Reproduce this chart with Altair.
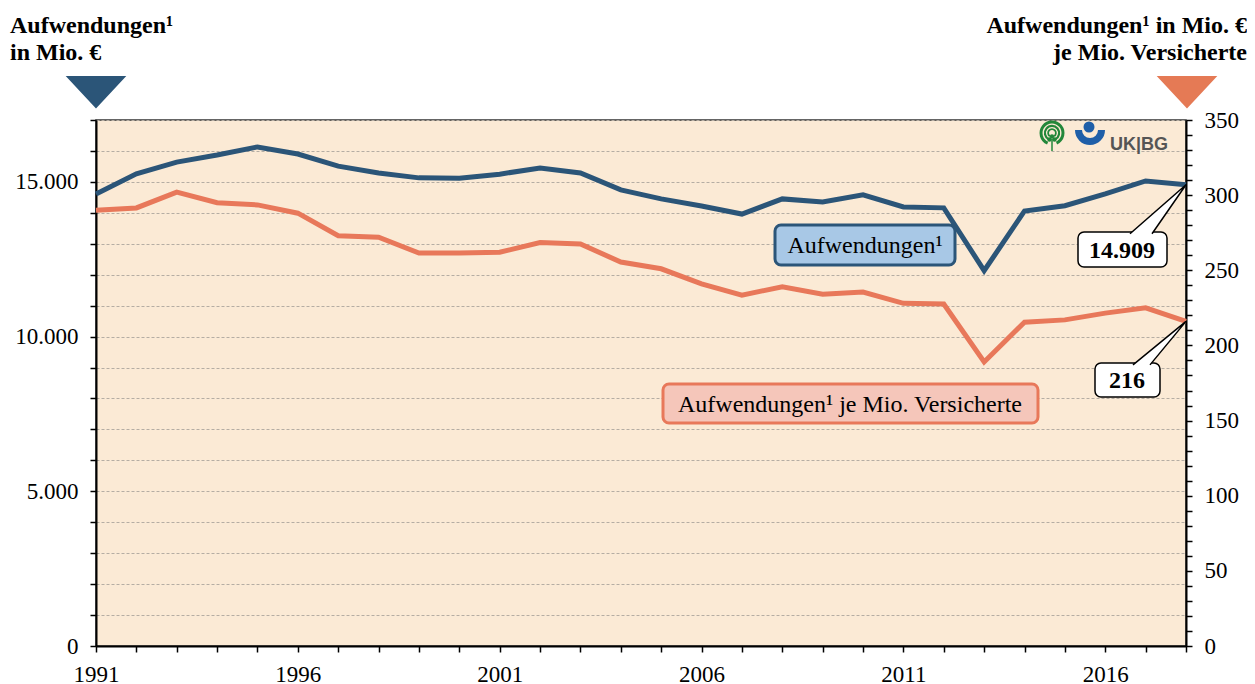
import altair as alt
import pandas as pd

years = list(range(1991, 2019))
aufwendungen = [14610, 15260, 15640, 15870, 16130, 15900, 15510, 15290, 15130, 15120,
                15250, 15450, 15290, 14740, 14450, 14220, 13960, 14450, 14350, 14580,
                14190, 14160, 12130, 14060, 14230, 14610, 15030, 14909]
je_versicherte = [290, 291.5, 302, 295, 293.5, 288, 273, 272, 261.5, 261.5,
                  262, 268.5, 267.5, 255.5, 251, 241, 233.5, 239, 234, 235.5,
                  228, 227.5, 189, 215.5, 217, 221.5, 225, 216]
left_ticks = list(range(0, 17001, 1000))
right_ticks = list(range(0, 351, 10))
label_blue = "Aufwendungen¹"
label_orange = "Aufwendungen¹ je Mio. Versicherte"
head_left = ["Aufwendungen¹", "in Mio. €"]
head_right = ["Aufwendungen¹ in Mio. €", "je Mio. Versicherte"]
last_blue = "14.909"
last_orange = "216"

df = pd.DataFrame({"year": years, "aufw": aufwendungen, "jev": je_versicherte})
df_last = df[df["year"] == years[-1]]

W, H = 1090, 526
BLUE = "#2B5578"
ORANGE = "#E8785A"
BG = "#FBEAD5"
FONT = "Liberation Serif"
FS = 23

xenc = alt.X("year:Q", scale=alt.Scale(domain=[years[0], years[-1]], nice=False, zero=False),
             axis=alt.Axis(values=years, title=None,
                           labelExpr="(datum.value - 1991) % 5 === 0 ? '' + datum.value : ''",
                           labelFont=FONT, labelFontSize=FS, labelColor="black",
                           labelPadding=11, tickSize=6, tickWidth=1.5, tickColor="black",
                           domainColor="black", domainWidth=2, grid=False, labelFlush=False))

left_scale = alt.Scale(domain=[0, 17000], nice=False, zero=True)
right_scale = alt.Scale(domain=[0, 350], nice=False, zero=True)

left_axis = alt.Axis(orient="left", values=left_ticks, title=None,
                     labelExpr="datum.value % 5000 === 0 ? replace(format(datum.value, ','), ',', '.') : ''",
                     labelFont=FONT, labelFontSize=FS, labelColor="black", labelPadding=12,
                     tickSize=6, tickWidth=1.5, tickColor="black",
                     domainColor="black", domainWidth=2,
                     grid=True, gridDash=[3, 2], gridColor="#B5ADA3", gridWidth=1.2)
right_axis = alt.Axis(orient="right", values=right_ticks, title=None,
                      labelExpr="datum.value % 50 === 0 ? '' + datum.value : ''",
                      labelFont=FONT, labelFontSize=FS, labelColor="black", labelPadding=12,
                      tickSize=6, tickWidth=1.5, tickColor="black",
                      domainColor="black", domainWidth=2, grid=False)

base = alt.Chart(df)

blue_line = base.mark_line(color=BLUE, strokeWidth=5).encode(
    x=xenc, y=alt.Y("aufw:Q", scale=left_scale, axis=left_axis))
orange_line = base.mark_line(color=ORANGE, strokeWidth=5).encode(
    x=xenc, y=alt.Y("jev:Q", scale=right_scale, axis=right_axis))


def box(x1, x2, y1, y2, fill, stroke, sw, r=6):
    return alt.Chart(df_last).mark_rect(fill=fill, stroke=stroke, strokeWidth=sw,
                                        cornerRadius=r).encode(
        x=alt.value(x1), x2=alt.value(x2), y=alt.value(y1), y2=alt.value(y2))


def label(txt, x, y, size=FS, bold=False, align="center", color="black", font=FONT,
          baseline="middle"):
    return alt.Chart(df_last).mark_text(text=txt, font=font, fontSize=size,
                                        fontWeight="bold" if bold else "normal",
                                        align=align, baseline=baseline, color=color).encode(
        x=alt.value(x), y=alt.value(y))


box_blue_val = box(982, 1071, 112, 147, "white", "black", 1.5)
box_orange_val = box(999, 1064, 243, 277, "white", "black", 1.5)

pointer_blue = alt.Chart(df_last).mark_point(
    shape="M-56,49L0,0L-34,49", size=4, filled=True, fill="white", stroke="black",
    strokeWidth=1.5, opacity=1).encode(
    x=xenc, y=alt.Y("aufw:Q", scale=left_scale, axis=None))
pointer_orange = alt.Chart(df_last).mark_point(
    shape="M-53,43.5L0,0L-36,43.5", size=4, filled=True, fill="white", stroke="black",
    strokeWidth=1.5, opacity=1).encode(
    x=xenc, y=alt.Y("jev:Q", scale=right_scale, axis=None))

legend_blue = box(679, 859, 105, 145, "#A8C8E6", BLUE, 3)
legend_orange = box(567, 942, 264, 303, "#F5C6BA", ORANGE, 3)

txt_legend_blue = label(label_blue, 769, 126, size=24)
txt_legend_orange = label(label_orange, 754, 285, size=24)
txt_val_blue = label(last_blue, 1026, 131, size=24, bold=True)
txt_val_orange = label(last_orange, 1031, 261, size=24, bold=True)

head_l1 = label(head_left[0], -86, -87, size=24, bold=True, align="left", baseline="alphabetic")
head_l2 = label(head_left[1], -86, -60, size=24, bold=True, align="left", baseline="alphabetic")
head_r1 = label(head_right[0], 1151, -87, size=24, bold=True, align="right", baseline="alphabetic")
head_r2 = label(head_right[1], 1151, -60, size=24, bold=True, align="right", baseline="alphabetic")

tri_left = alt.Chart(df_last).mark_point(shape="M-28,-15L28,-15L0,15Z", size=4, filled=True,
                                         fill=BLUE, stroke=BLUE, opacity=1).encode(
    x=alt.value(0), y=alt.value(-28))
tri_right = alt.Chart(df_last).mark_point(shape="M-28,-15L28,-15L0,15Z", size=4, filled=True,
                                          fill="#E57A55", stroke="#E57A55", opacity=1).encode(
    x=alt.value(1091), y=alt.value(-28))


def arc(cx, cy, r1, r2, t1, t2, color):
    return alt.Chart(df_last).mark_arc(radius=r2, radius2=r1, theta=t1, theta2=t2,
                                       color=color).encode(x=alt.value(cx), y=alt.value(cy))


GREEN = "#23873A"
BLUE_LOGO = "#1F5FA8"
logo_g1 = arc(956, 13, 9.5, 12.5, 3.55, 9.0, GREEN)
logo_g2 = arc(956, 13, 6, 8.2, 3.6, 8.95, GREEN)
logo_g3 = arc(956, 13, 3, 4.8, 3.75, 8.8, GREEN)
logo_g4 = arc(953.5, 19.5, 0, 2.2, 0, 6.3, GREEN)
logo_g5 = arc(958.5, 19.5, 0, 2.2, 0, 6.3, GREEN)
logo_g6 = arc(956, 16.5, 0, 2.2, 0, 6.3, GREEN)
logo_stem = alt.Chart(df_last).mark_rule(color=GREEN, strokeWidth=1.5).encode(
    x=alt.value(956), y=alt.value(19), y2=alt.value(31))
logo_b1 = arc(993, 7, 0, 5.5, 0, 6.3, BLUE_LOGO)
logo_b2 = arc(994, 10, 8, 15, 1.57, 4.71, BLUE_LOGO)
logo_txt = label("UK|BG", 1014, 30, size=18, bold=True, align="left",
                 color="#555555", font="Liberation Sans", baseline="alphabetic")

chart = alt.layer(
    blue_line, orange_line,
    box_blue_val, box_orange_val, pointer_blue, pointer_orange,
    legend_blue, legend_orange, txt_legend_blue, txt_legend_orange,
    txt_val_blue, txt_val_orange,
    head_l1, head_l2, head_r1, head_r2, tri_left, tri_right,
    logo_g1, logo_g2, logo_g3, logo_g4, logo_g5, logo_g6, logo_stem,
    logo_b1, logo_b2, logo_txt,
).resolve_scale(y="independent").properties(
    width=W, height=H,
    autosize=alt.AutoSizeParams(type="none"),
    padding={"left": 88, "top": 112, "right": 61, "bottom": 40},
    background="white",
).configure_view(fill=BG, stroke="#333333", strokeWidth=1.5)

chart.save("out.html", embed_options={"renderer": "svg", "actions": False})
